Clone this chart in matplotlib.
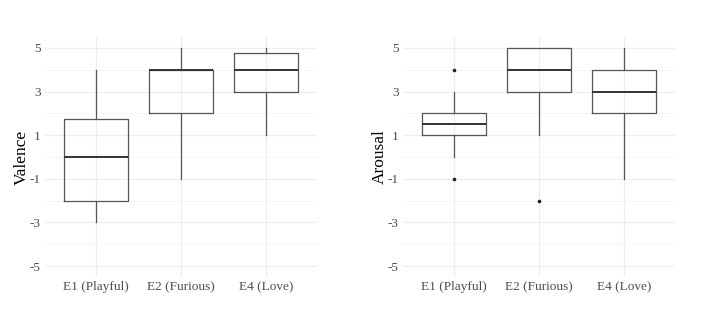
import numpy as np
import matplotlib
matplotlib.use('Agg')
import matplotlib.pyplot as plt

plt.rcParams['font.family'] = ['Liberation Serif', 'DejaVu Serif']

groups = ['E1 (Playful)', 'E2 (Furious)', 'E4 (Love)']

# Valence
val_lo = [-3, -1, 1]
val_q1 = [-2, 2, 3]
val_med = [0, 4, 4]
val_q3 = [1.75, 4, 4.75]
val_hi = [4, 5, 5]
val_out = [[], [], []]

# Arousal
aro_lo = [0, 1, -1]
aro_q1 = [1, 3, 2]
aro_med = [1.5, 4, 3]
aro_q3 = [2, 5, 4]
aro_hi = [3, 5, 5]
aro_out = [[4, -1], [-2], []]

yticks = [-5, -3, -1, 1, 3, 5]
yminor = [-4, -2, 0, 2, 4]


def stats(lo, q1, med, q3, hi, out):
    res = []
    for i in range(len(lo)):
        res.append(dict(whislo=lo[i], q1=q1[i], med=med[i], q3=q3[i],
                        whishi=hi[i], fliers=out[i]))
    return res


fig = plt.figure(figsize=(7.21, 3.24), dpi=100)
ax1 = fig.add_axes([0.0624, 0.145, 0.3773, 0.741])
ax2 = fig.add_axes([0.559, 0.145, 0.3773, 0.741])

panels = [
    (ax1, stats(val_lo, val_q1, val_med, val_q3, val_hi, val_out), 'Valence'),
    (ax2, stats(aro_lo, aro_q1, aro_med, aro_q3, aro_hi, aro_out), 'Arousal'),
]

for ax, st, lab in panels:
    for y in yticks:
        ax.axhline(y, color='#eeeeee', lw=0.9, zorder=0)
    for y in yminor:
        ax.axhline(y, color='#f4f4f4', lw=0.6, zorder=0)
    for x in range(1, 4):
        ax.axvline(x, color='#eeeeee', lw=0.9, zorder=0)
    ax.bxp(st, positions=[1, 2, 3], widths=0.75, showcaps=False,
           boxprops=dict(color='#555555', lw=0.9),
           whiskerprops=dict(color='#555555', lw=0.9),
           medianprops=dict(color='#333333', lw=1.4),
           flierprops=dict(marker='o', markersize=1.6, markerfacecolor='#222222',
                           markeredgecolor='#222222'))
    ax.set_xlim(0.4, 3.6)
    ax.set_ylim(-5.5, 5.5)
    ax.set_yticks(yticks)
    ax.set_yticklabels([str(t) for t in yticks])
    ax.set_xticks([1, 2, 3])
    ax.set_xticklabels(groups)
    ax.tick_params(length=0, labelsize=9.5, labelcolor='#4d4d4d', pad=3)
    for s in ax.spines.values():
        s.set_visible(False)
    ax.set_ylabel(lab, fontsize=12.5, color='black', labelpad=0)

fig.savefig('out.png', dpi=100)
